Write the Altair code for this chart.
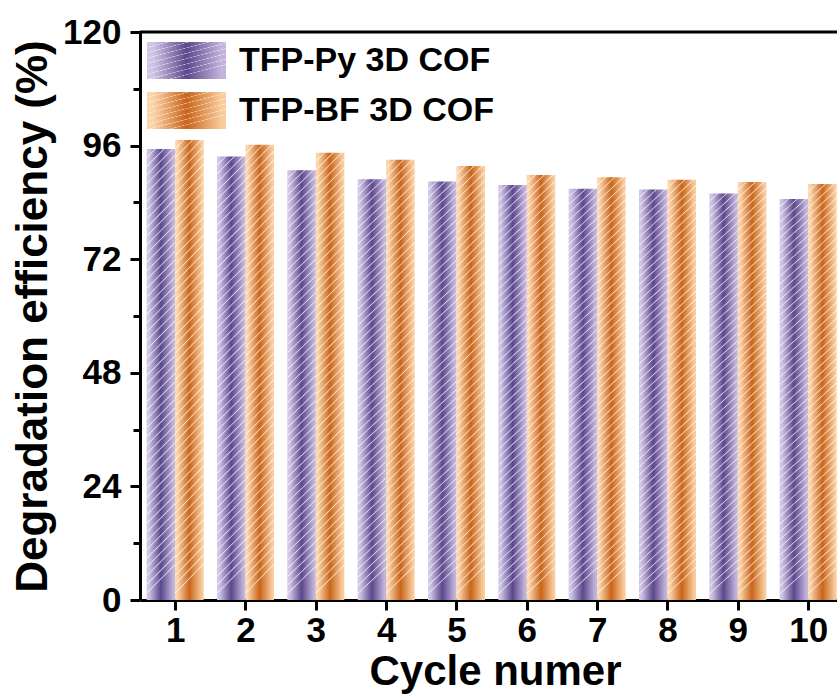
import altair as alt
import pandas as pd

# Degradation efficiency of the two COF photocatalysts over ten reuse cycles
cycles = [1, 2, 3, 4, 5, 6, 7, 8, 9, 10]
py_cof = [95.3, 93.7, 90.8, 88.9, 88.4, 87.7, 86.9, 86.7, 85.9, 84.7]
bf_cof = [97.2, 96.2, 94.5, 93.0, 91.7, 89.8, 89.3, 88.8, 88.3, 87.9]
series_names = ["TFP-Py 3D COF", "TFP-BF 3D COF"]
y_values = [0, 12, 24, 36, 48, 60, 72, 84, 96, 108, 120]

W, H = 697, 568
FONT = "Liberation Sans"
HALF = 0.405  # width of one bar in cycle units


def shade(left, mid, right):
    """Horizontal light-dark-light cylinder shading."""
    return alt.LinearGradient(
        gradient="linear", x1=0, y1=0, x2=1, y2=0,
        stops=[
            alt.GradientStop(color=left, offset=0),
            alt.GradientStop(color=left, offset=0.08),
            alt.GradientStop(color=mid, offset=0.5),
            alt.GradientStop(color=right, offset=0.94),
            alt.GradientStop(color=right, offset=1),
        ],
    )


def hatch(n=52, half=0.0028, slant=0.063, alpha=0.7):
    """Thin white diagonal lines laid over a filled shape."""
    clear = "rgba(255,255,255,0)"
    line = f"rgba(255,255,255,{alpha})"
    stops = [alt.GradientStop(color=clear, offset=0)]
    for k in range(1, n):
        p = k / n
        stops += [
            alt.GradientStop(color=clear, offset=round(p - half, 5)),
            alt.GradientStop(color=line, offset=round(p, 5)),
            alt.GradientStop(color=clear, offset=round(p + half, 5)),
        ]
    stops.append(alt.GradientStop(color=clear, offset=1))
    return alt.LinearGradient(gradient="linear", x1=0, y1=0, x2=slant, y2=1, stops=stops)


purple = shade("#d0c5e6", "#5b478c", "#c2b5dd")
orange = shade("#fcd3aa", "#c8651a", "#facb9c")

df = pd.DataFrame({
    "cycle": cycles * 2,
    "value": py_cof + bf_cof,
    "series": [series_names[0]] * len(cycles) + [series_names[1]] * len(cycles),
})

x_scale = alt.Scale(domain=[0.5, 10.41], nice=False, zero=False)
y_scale = alt.Scale(domain=[0, 120], nice=False)

x_axis = alt.Axis(
    values=cycles, format="d", title="Cycle numer", grid=False,
    labelFont=FONT, labelFontSize=35, labelFontWeight="bold", labelColor="black",
    labelPadding=3, labelFlush=False,
    tickSize=10, tickWidth=3, tickColor="black",
    domainWidth=3, domainColor="black",
    titleFont=FONT, titleFontSize=42, titleFontWeight="bold", titleColor="black",
    titlePadding=3, titleX=355,
)
y_axis = alt.Axis(
    values=y_values, title="Degradation efficiency (%)", grid=False,
    labelExpr="datum.value % 24 === 0 ? datum.label : ''",
    labelFont=FONT, labelFontSize=35, labelFontWeight="bold", labelColor="black",
    labelPadding=9,
    tickSize={"condition": {"test": "datum.value % 24 === 0", "value": 10}, "value": 7},
    tickWidth=3, tickColor="black",
    domainWidth=3, domainColor="black",
    titleFont=FONT, titleFontSize=44, titleFontWeight="bold", titleColor="black",
    titlePadding=7,
)

base = alt.Chart(df)


def bars(name, offset_expr, fill):
    return (
        base.transform_filter(alt.datum.series == name)
        .transform_calculate(x0=offset_expr, x1=f"({offset_expr}) + {HALF}")
        .mark_bar(fill=fill, strokeWidth=0)
        .encode(
            x=alt.X("x0:Q", scale=x_scale, axis=x_axis),
            x2="x1:Q",
            y=alt.Y("value:Q", scale=y_scale, axis=y_axis),
            y2=alt.datum(0),
        )
    )


py_bars = bars(series_names[0], f"datum.cycle - {HALF}", purple)
bf_bars = bars(series_names[1], "datum.cycle", orange)
py_hatch = bars(series_names[0], f"datum.cycle - {HALF}", hatch())
bf_hatch = bars(series_names[1], "datum.cycle", hatch())

# frame line along the top of the plot
top_line = (
    alt.Chart(pd.DataFrame({"edge": [0]}))
    .mark_rule(color="black", strokeWidth=3)
    .encode(x=alt.value(0), x2=alt.value(W), y=alt.value(0))
)

# legend in the upper-left corner
legend_df = pd.DataFrame({"series": series_names})
legend_layers = []
for i, (name, fill) in enumerate(zip(series_names, [purple, orange])):
    top = 10 + i * 50
    rows = alt.Chart(legend_df).transform_filter(alt.datum.series == name)
    legend_layers.append(
        rows.mark_rect(fill=fill).encode(
            x=alt.value(7), x2=alt.value(86), y=alt.value(top), y2=alt.value(top + 37)
        )
    )
    legend_layers.append(
        rows.mark_rect(fill=hatch(n=9, half=0.012, slant=0.55, alpha=0.6)).encode(
            x=alt.value(7), x2=alt.value(86), y=alt.value(top), y2=alt.value(top + 37)
        )
    )
    legend_layers.append(
        rows.mark_text(
            align="left", baseline="middle", font=FONT, fontSize=34,
            fontWeight="bold", color="black",
        ).encode(x=alt.value(99), y=alt.value(top + 19), text="series:N")
    )

chart = (
    alt.layer(py_bars, bf_bars, py_hatch, bf_hatch, top_line, *legend_layers)
    .properties(
        width=W, height=H,
        autosize=alt.AutoSizeParams(type="none"),
        padding={"left": 140, "top": 32, "right": 0, "bottom": 98},
        background="white",
    )
    .configure_view(stroke=None)
)

chart.save("out.html", embed_options={"renderer": "svg", "actions": False})
